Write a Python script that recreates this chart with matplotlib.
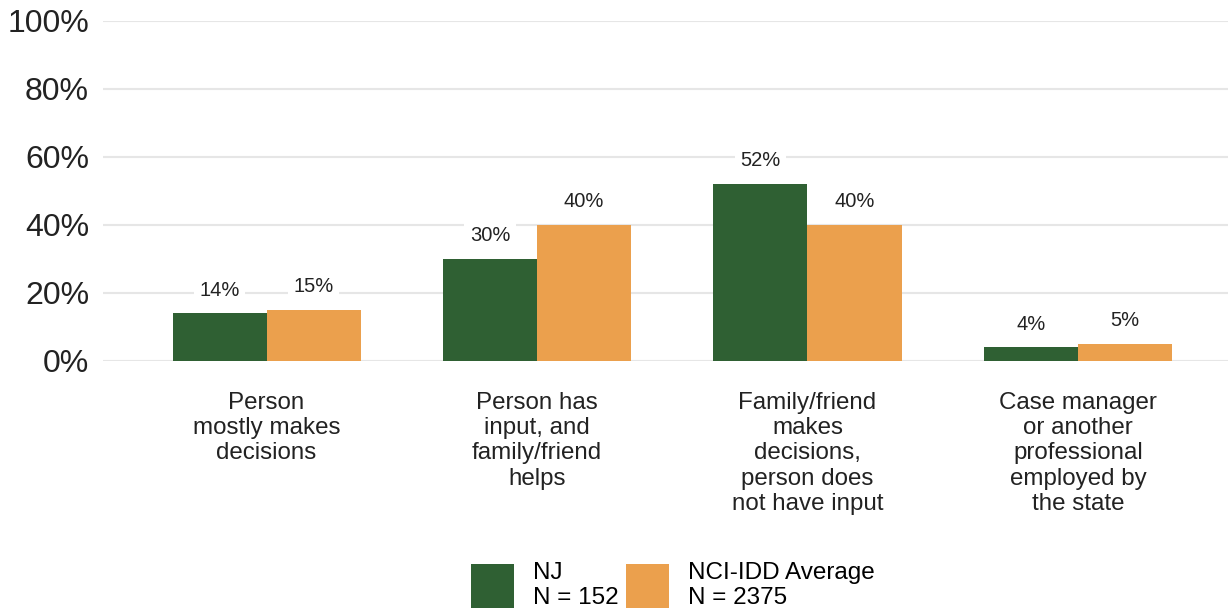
import numpy as np
import matplotlib.pyplot as plt
from matplotlib.ticker import PercentFormatter

plt.rcParams['font.family'] = ['Liberation Sans', 'DejaVu Sans']

categories = ['Person\nmostly makes\ndecisions',
              'Person has\ninput, and\nfamily/friend\nhelps',
              'Family/friend\nmakes\ndecisions,\nperson does\nnot have input',
              'Case manager\nor another\nprofessional\nemployed by\nthe state']
nj = [14, 30, 52, 4]
nci = [15, 40, 40, 5]
nj_label = 'NJ\nN = 152'
nci_label = 'NCI-IDD Average\nN = 2375'

green = '#2f6033'
orange = '#eba04d'

fig = plt.figure(figsize=(12.28, 6.12), dpi=100)
ax = fig.add_axes([103 / 1228, 1 - 361 / 612, 1125 / 1228, 340 / 612])

x = np.arange(len(categories))
w = 0.348
b1 = ax.bar(x - w / 2, nj, w, color=green, label=nj_label, zorder=2)
b2 = ax.bar(x + w / 2, nci, w, color=orange, label=nci_label, zorder=2)

for bars in (b1, b2):
    for r in bars:
        ax.annotate(f'{r.get_height():.0f}%',
                    (r.get_x() + r.get_width() / 2, r.get_height()),
                    xytext=(0, 10), textcoords='offset points',
                    ha='center', va='bottom', fontsize=14.5, color='#222222',
                    bbox=dict(facecolor='white', edgecolor='none', pad=4),
                    zorder=3)

ax.set_ylim(0, 100)
ax.set_xlim(-0.605, 3.555)
ax.set_yticks(range(0, 101, 20))
ax.yaxis.set_major_formatter(PercentFormatter(decimals=0))
ax.grid(axis='y', color='#e6e6e6', linewidth=1.5, zorder=0)
ax.set_axisbelow(True)
for s in ax.spines.values():
    s.set_visible(False)
ax.tick_params(axis='y', length=0, labelsize=23, pad=10, labelcolor='#222222')
ax.set_xticks(x)
ax.set_xticklabels(categories, fontsize=17.4, linespacing=1.2, color='#222222')
ax.tick_params(axis='x', length=0, pad=22)

fig.legend(loc='lower center', bbox_to_anchor=(0.548, -0.031), ncol=2,
           frameon=False, fontsize=17.5, handlelength=1.77, handleheight=2.4,
           handletextpad=0.8, columnspacing=0.3, labelspacing=0)

fig.savefig('out.png', dpi=100)
